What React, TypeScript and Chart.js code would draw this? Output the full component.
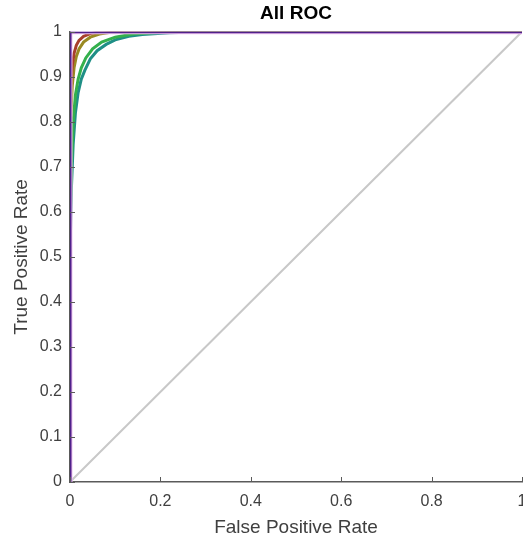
import { useEffect, useRef } from "react";
import { Chart, registerables } from "chart.js";
Chart.register(...registerables);

const chartTitle = "All ROC";
const xTitle = "False Positive Rate";
const yTitle = "True Positive Rate";

const purpleFpr = [0, 0, 1];
const purpleTpr = [0, 1, 1];
const magentaFpr = [0, 0, 1];
const magentaTpr = [0, 1, 1];
const redFpr = [0, 0, 0.002, 0.005, 0.009, 0.014, 0.02, 0.03, 0.045, 0.06, 0.08, 1];
const redTpr = [0, 0.75, 0.87, 0.925, 0.952, 0.97, 0.981, 0.99, 0.996, 0.999, 1, 1];
const oliveFpr = [0, 0, 0.002, 0.005, 0.009, 0.014, 0.02, 0.03, 0.045, 0.065, 0.09, 0.12, 1];
const oliveTpr = [0, 0.65, 0.8, 0.88, 0.92, 0.945, 0.962, 0.977, 0.988, 0.995, 0.999, 1, 1];
const greenFpr = [0, 0, 0.003, 0.007, 0.012, 0.018, 0.025, 0.035, 0.05, 0.07, 0.1, 0.14, 0.2, 0.28, 1];
const greenTpr = [0, 0.55, 0.7, 0.8, 0.86, 0.895, 0.92, 0.942, 0.962, 0.977, 0.988, 0.995, 0.999, 1, 1];
const tealFpr = [0, 0, 0.003, 0.007, 0.012, 0.018, 0.025, 0.033, 0.045, 0.06, 0.08, 0.1, 0.13, 0.16, 0.22, 0.3, 1];
const tealTpr = [0, 0.5, 0.65, 0.75, 0.82, 0.865, 0.895, 0.915, 0.94, 0.958, 0.972, 0.982, 0.99, 0.994, 0.998, 1, 1];
const diagFpr = [0, 1];
const diagTpr = [0, 1];

const FONT = "'Liberation Sans', Arial, Helvetica, sans-serif";
const AXIS = "#5a5a5a";
const TEXT = "#404040";

const pts = (xs: number[], ys: number[]) => xs.map((x, i) => ({ x, y: ys[i] }));
const fmt = (v: number) => String(Math.round(Number(v) * 10) / 10);

const inwardTicks = {
  id: "inwardTicks",
  afterDatasetsDraw(chart: any) {
    const { ctx, chartArea, scales } = chart;
    ctx.save();
    ctx.strokeStyle = AXIS;
    ctx.lineWidth = 1;
    ctx.beginPath();
    scales.x.ticks.forEach((t: any) => {
      const px = Math.round(scales.x.getPixelForValue(t.value)) + 0.5;
      ctx.moveTo(px, chartArea.bottom);
      ctx.lineTo(px, chartArea.bottom - 5);
    });
    scales.y.ticks.forEach((t: any) => {
      const py = Math.round(scales.y.getPixelForValue(t.value)) + 0.5;
      ctx.moveTo(chartArea.left, py);
      ctx.lineTo(chartArea.left + 5, py);
    });
    ctx.stroke();
    ctx.restore();
  },
};

export default function App() {
  const ref = useRef<HTMLCanvasElement | null>(null);
  useEffect(() => {
    document.body.style.margin = "0";
    const line = (data: any, color: string, width: number) => ({
      data,
      borderColor: color,
      backgroundColor: color,
      borderWidth: width,
      showLine: true,
      pointRadius: 0,
      tension: 0,
      fill: false,
    });
    const chart = new Chart(ref.current as HTMLCanvasElement, {
      type: "scatter",
      data: {
        datasets: [
          line(pts(purpleFpr, purpleTpr), "#4f218a", 3),
          line(pts(magentaFpr, magentaTpr), "#efc2f0", 5),
          line(pts(redFpr, redTpr), "#a8402c", 3),
          line(pts(oliveFpr, oliveTpr), "#9a8a22", 3),
          line(pts(greenFpr, greenTpr), "#34b04c", 3),
          line(pts(tealFpr, tealTpr), "#1f8f86", 3),
          line(pts(diagFpr, diagTpr), "#c8c8c8", 2),
        ] as any,
      },
      options: {
        responsive: false,
        animation: false,
        layout: { padding: { top: 0, left: 0, right: 1, bottom: 0 } },
        plugins: {
          legend: { display: false },
          tooltip: { enabled: false },
          title: {
            display: true,
            text: chartTitle,
            fullSize: false,
            color: "#000",
            font: { family: FONT, size: 19, weight: "bold" },
            padding: { top: 2, bottom: 7 },
          },
        },
        scales: {
          x: {
            type: "linear",
            min: 0,
            max: 1,
            ticks: {
              stepSize: 0.2,
              color: TEXT,
              font: { family: FONT, size: 16 },
              padding: 10,
              maxRotation: 0,
              callback: (v: any) => fmt(v),
            },
            grid: { display: true, drawOnChartArea: false, drawTicks: false, color: AXIS },
            border: { display: true, color: AXIS, width: 1.5 },
            title: {
              display: true,
              text: xTitle,
              color: TEXT,
              font: { family: FONT, size: 19 },
              padding: { top: 5, bottom: 0 },
            },
            afterFit: (s: any) => {
              s.height = 57;
              s.paddingRight = 0;
              s.paddingLeft = 0;
            },
          },
          y: {
            type: "linear",
            min: 0,
            max: 1,
            ticks: {
              stepSize: 0.1,
              color: TEXT,
              font: { family: FONT, size: 16 },
              padding: 8,
              callback: (v: any) => fmt(v),
            },
            grid: { display: true, drawOnChartArea: false, drawTicks: false, color: AXIS },
            border: { display: true, color: AXIS, width: 1.5 },
            title: {
              display: true,
              text: yTitle,
              color: TEXT,
              font: { family: FONT, size: 19 },
              padding: { top: 10, bottom: 0 },
            },
            afterFit: (s: any) => {
              s.width = 70;
              s.paddingTop = 0;
              s.paddingBottom = 0;
            },
          },
        },
      } as any,
      plugins: [inwardTicks],
    });
    return () => chart.destroy();
  }, []);
  return (
    <div style={{ position: "absolute", left: 0, top: 0, width: 523, height: 539, background: "#fff" }}>
      <canvas ref={ref} width={523} height={539} />
    </div>
  );
}
